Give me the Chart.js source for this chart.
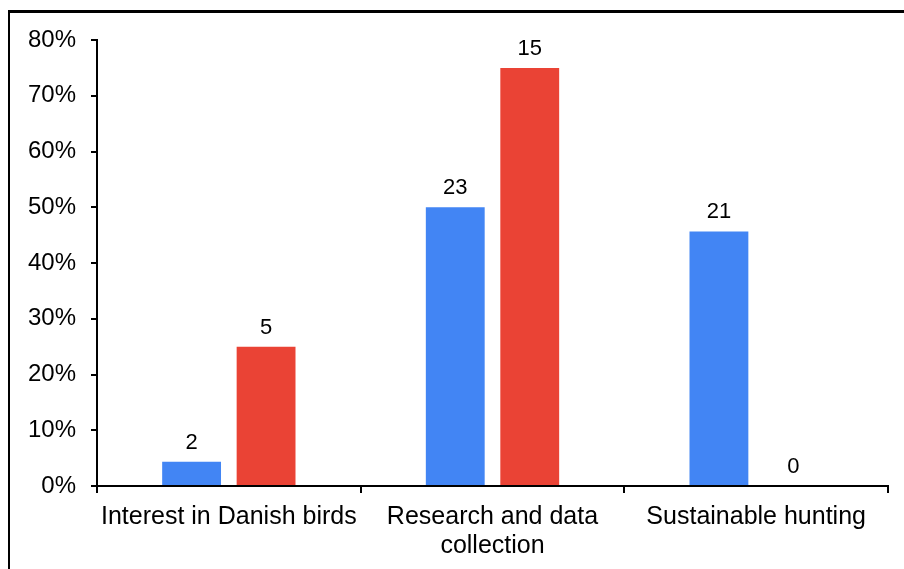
<!DOCTYPE html>
<html>
<head>
<meta charset="utf-8">
<script src="https://cdn.jsdelivr.net/npm/chart.js@4/dist/chart.umd.min.js"></script>
<style>
  html, body { margin: 0; padding: 0; background: #fff; overflow: hidden; }
  #wrap { position: relative; width: 904px; height: 569px; }
  #frame {
    position: absolute; left: 8px; top: 10px; width: 1000px; height: 700px;
    border-left: 2px solid #000; border-top: 3px solid #000; pointer-events: none;
  }
  canvas { position: absolute; left: 0; top: 0; }
</style>
</head>
<body>
<div id="wrap">
  <canvas id="chart" width="904" height="569"></canvas>
  <div id="frame"></div>
</div>
<script>
// Topics on the x axis
const categories = [
  'Interest in Danish birds',
  ['Research and data', 'collection'],
  'Sustainable hunting'
];

// Number of answers per topic for each group
const blueCounts = [2, 23, 21];
const redCounts = [5, 15, 0];

// Group sizes used to turn counts into shares
const blueTotal = 46;
const redTotal = 20;

// Y axis runs from 0% to 80% in 10% steps
const yMax = 0.8;
const yStep = 0.1;

const blueShares = blueCounts.map(c => c / blueTotal);
const redShares = redCounts.map(c => c / redTotal);

const FONT = "'Liberation Sans', Arial, sans-serif";

// Writes each bar's count just above the bar
const countLabels = {
  id: 'countLabels',
  afterDatasetsDraw(chart) {
    const ctx = chart.ctx;
    ctx.save();
    ctx.font = '22px ' + FONT;
    ctx.fillStyle = '#000';
    ctx.textAlign = 'center';
    ctx.textBaseline = 'alphabetic';
    chart.data.datasets.forEach((ds, di) => {
      const meta = chart.getDatasetMeta(di);
      meta.data.forEach((bar, i) => {
        ctx.fillText(String(ds.counts[i]), bar.x, bar.y - 13);
      });
    });
    ctx.restore();
  }
};

new Chart(document.getElementById('chart'), {
  type: 'bar',
  data: {
    labels: categories,
    datasets: [
      { label: 'Group 1', data: blueShares, counts: blueCounts, backgroundColor: '#4285F4' },
      { label: 'Group 2', data: redShares, counts: redCounts, backgroundColor: '#EA4335' }
    ]
  },
  options: {
    responsive: false,
    animation: false,
    layout: { padding: { top: 40, right: 16, left: 0, bottom: 0 } },
    datasets: { bar: { categoryPercentage: 0.565, barPercentage: 0.79 } },
    plugins: { legend: { display: false }, tooltip: { enabled: false } },
    scales: {
      x: {
        grid: { display: true, drawOnChartArea: false, drawTicks: true, tickLength: 7, color: '#000', lineWidth: 2, offset: true },
        border: { display: true, color: '#000', width: 2 },
        ticks: { color: '#000', font: { family: FONT, size: 25, lineHeight: 1.15 }, padding: 10, maxRotation: 0, autoSkip: false },
        afterFit(scale) { scale.height = 569 - 486; }
      },
      y: {
        min: 0, max: yMax,
        grid: { display: true, drawOnChartArea: false, drawTicks: true, tickLength: 6, color: '#000', lineWidth: 2 },
        border: { display: true, color: '#000', width: 2 },
        ticks: {
          stepSize: yStep, color: '#000', padding: 15,
          font: { family: FONT, size: 24 },
          callback: v => Math.round(v * 100) + '%'
        },
        afterFit(scale) { scale.width = 97; }
      }
    }
  },
  plugins: [countLabels]
});
</script>
</body>
</html>
